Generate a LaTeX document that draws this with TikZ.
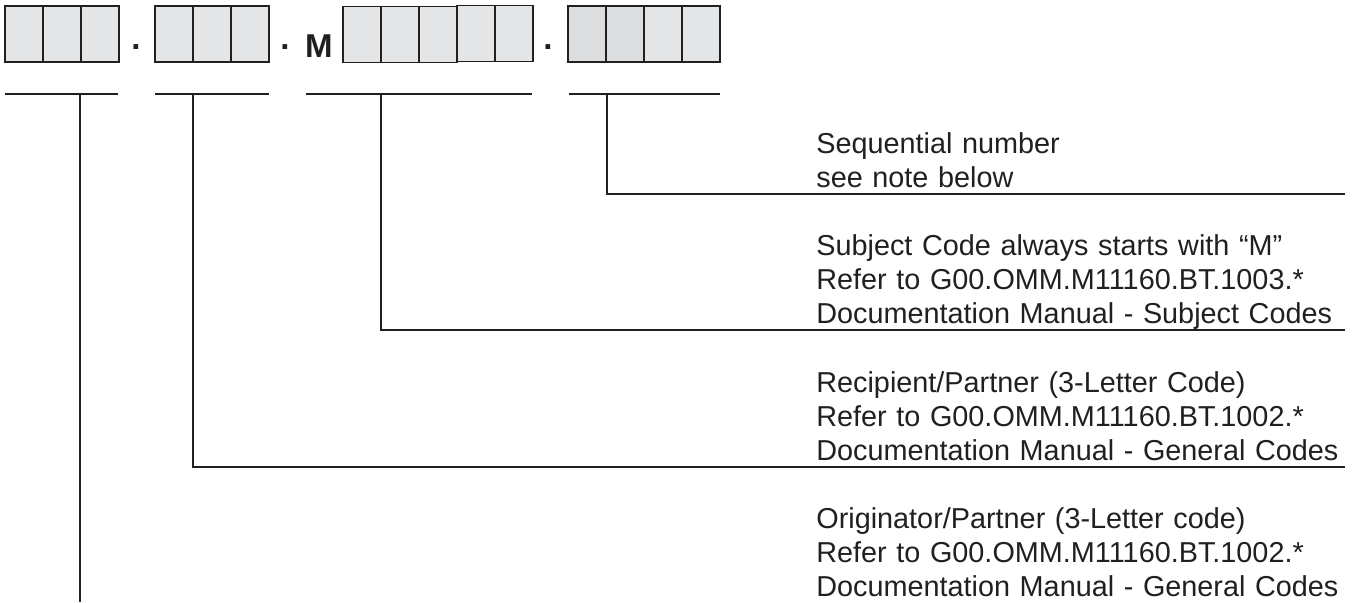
\documentclass[tikz,border=0pt]{standalone}
\usepackage{fontspec}
\setmainfont{Liberation Sans}
\usetikzlibrary{calc}
\definecolor{InkBlack}{HTML}{231F20}
\definecolor{CellGray}{HTML}{E4E5E7}
\definecolor{CellDark}{HTML}{DCDDDF}
\tikzset{
  codecell/.style={draw=InkBlack, line width=1.1pt, fill=CellGray, minimum width=0.76cm, minimum height=1.12cm, inner sep=0pt},
  dotmark/.style={font=\fontsize{18.8pt}{20pt}\selectfont\bfseries, text=InkBlack, inner sep=0pt},
  notetext/.style={font=\fontsize{16.4pt}{19.4pt}\selectfont, text=InkBlack, align=left, text width=10.56cm, inner sep=0pt, anchor=base west},
  bracket/.style={draw=InkBlack, line width=1.1pt}
}

\begin{document}
\begin{tikzpicture}[x=0.02cm, y=-0.02cm]
\useasboundingbox (0,0) rectangle (1358,602);

% code template
\foreach \i in {0,1,2} \node[codecell] (orig\i) at ({24+38*\i},34) {};
\node[dotmark] (dota) at (136,47) {.};
\foreach \i in {0,1,2} \node[codecell] (recp\i) at ({174+38*\i},34) {};
\node[dotmark] (dotb) at (285,47) {.};
\node[dotmark] (mlet) at (319,46) {M};
\foreach \i in {0,1,2} \node[codecell] (subj\i) at ({362+38*\i},34.5) {};
\foreach \i in {3,4} \node[codecell] (subj\i) at ({362+38*\i},33.5) {};
\node[dotmark] (dotc) at (548,47) {.};
\foreach \i in {0,1} \node[codecell, fill=CellDark] (seq\i) at ({587+38*\i},34) {};
\foreach \i in {2,3} \node[codecell] (seq\i) at ({587+38*\i},34) {};

% underlines
\draw[bracket] (5,94) -- (118,94);
\draw[bracket] (155,94) -- (269,94);
\draw[bracket] (306,94) -- (532,94);
\draw[bracket] (569,94) -- (720,94);
\coordinate (origtap) at (80,94);
\coordinate (recptap) at (193,94);
\coordinate (subjtap) at (381,94);
\coordinate (seqtap) at (607,94);

% explanations
\node[notetext] (seqtext) at (816,153) {Sequential number\\see note below};
\node[notetext] (subjtext) at (816,255)
  {Subject Code always starts with “M”\\Refer to G00.OMM.M11160.BT.1003.*\\Documentation Manual - Subject Codes};
\node[notetext] (recptext) at (816,392)
  {Recipient/Partner (3-Letter Code)\\Refer to G00.OMM.M11160.BT.1002.*\\Documentation Manual - General Codes};
\node[notetext] (origtext) at (816,528)
  {Originator/Partner (3-Letter code)\\Refer to G00.OMM.M11160.BT.1002.*\\Documentation Manual - General Codes};

\draw[bracket] (seqtap) |- ($(seqtext.base east)+(0,41)$);
\draw[bracket] (subjtap) |- ($(subjtext.base east)+(0,75)$);
\draw[bracket] (recptap) |- ($(recptext.base east)+(0,75)$);
\draw[bracket] (origtap) -- (origtap |- {$(origtext.base)+(0,74)$});
\end{tikzpicture}
\end{document}
